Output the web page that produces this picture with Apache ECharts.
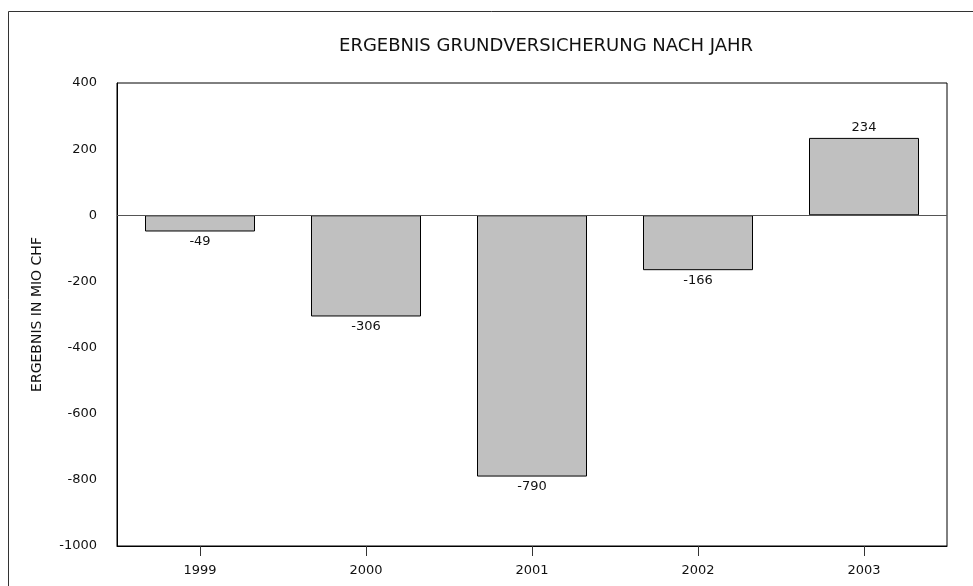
<!DOCTYPE html>
<html>
<head>
<meta charset="utf-8">
<script src="https://cdn.jsdelivr.net/npm/echarts@6/dist/echarts.min.js"></script>
<style>html,body{margin:0;padding:0;background:#fff;}#c{width:973px;height:586px;}</style>
</head>
<body>
<div id="c"></div>
<script>
var years = ['1999', '2000', '2001', '2002', '2003'];
var results = [-49, -306, -790, -166, 234];
var titleText = 'ERGEBNIS GRUNDVERSICHERUNG NACH JAHR';
var yAxisName = 'ERGEBNIS IN MIO CHF';

var chart = echarts.init(document.getElementById('c'));
var font = 'Verdana, "DejaVu Sans", sans-serif';
chart.setOption({
  animation: false,
  backgroundColor: '#fff',
  textStyle: { fontFamily: font },
  title: {
    text: titleText,
    left: 541, top: 32, textAlign: 'center',
    textStyle: { fontFamily: font, fontSize: 18, fontWeight: 'normal', color: '#111' }
  },
  graphic: [{
    type: 'rect', silent: true,
    shape: { x: 8.5, y: 11.5, width: 1200, height: 800 },
    style: { fill: 'none', stroke: '#333', lineWidth: 1 }
  }],
  grid: { left: 117, top: 83, right: 26, bottom: 40, show: true, borderColor: '#000', borderWidth: 1, backgroundColor: 'transparent' },
  xAxis: {
    type: 'category', data: years,
    axisLine: { onZero: false, lineStyle: { color: '#000', width: 1 } },
    axisTick: { show: true, alignWithLabel: true, length: 10, lineStyle: { color: '#333' } },
    axisLabel: { color: '#111', fontSize: 13, fontFamily: font, margin: 18 }
  },
  yAxis: {
    type: 'value', min: -1000, max: 400, interval: 200,
    name: yAxisName, nameLocation: 'middle', nameGap: 73, nameRotate: 90,
    nameTextStyle: { color: '#111', fontSize: 14, fontFamily: font },
    axisLine: { show: true, lineStyle: { color: '#000' } },
    axisTick: { show: false },
    splitLine: { show: false },
    axisLabel: { color: '#111', fontSize: 13, fontFamily: font, margin: 20, formatter: function (v) { return String(v); } }
  },
  series: [{
    type: 'bar',
    barWidth: 110,
    data: results.map(function (v) {
      return { value: v, label: { position: v < 0 ? 'bottom' : 'top' } };
    }),
    itemStyle: { color: '#c0c0c0', borderColor: '#000', borderWidth: 1 },
    label: { show: true, color: '#111', fontSize: 13, fontFamily: font, distance: 4 },
    markLine: {
      silent: true, symbol: 'none', label: { show: false },
      lineStyle: { color: '#555', width: 1, type: 'solid' },
      data: [{ yAxis: 0 }]
    }
  }]
});
</script>
</body>
</html>
